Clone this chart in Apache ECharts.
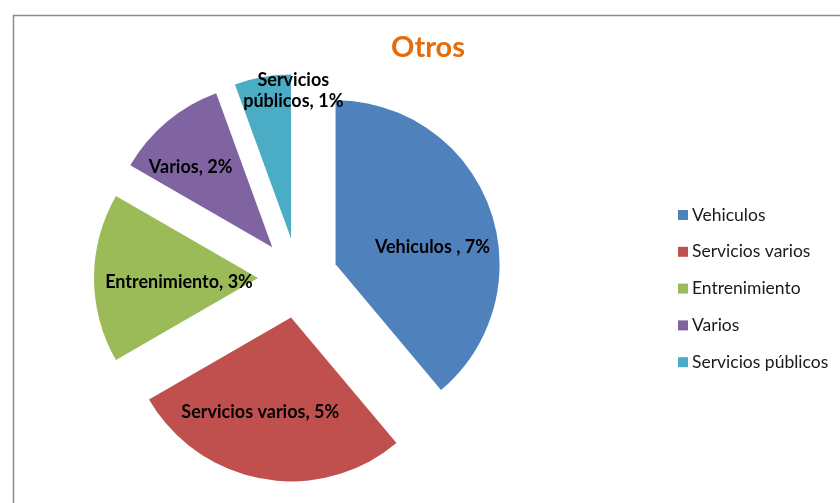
<!DOCTYPE html>
<html>
<head>
<meta charset="utf-8">
<script src="https://cdn.jsdelivr.net/npm/echarts@6/dist/echarts.min.js"></script>
<style>
  html, body { margin: 0; padding: 0; background: #fff; }
  #chart { width: 840px; height: 503px; }
</style>
</head>
<body>
<div id="chart"></div>
<script>
  // data
  const categories = ['Vehiculos', 'Servicios varios', 'Entrenimiento', 'Varios', 'Servicios públicos'];
  const labelNames = ['Vehiculos ', 'Servicios varios', 'Entrenimiento', 'Varios', 'Servicios\npúblicos'];
  const values = [7, 5, 3, 2, 1];
  const colors = ['#4F81BD', '#C0504D', '#9BBB59', '#8064A2', '#4BACC6'];

  // label nudges (px) from default inside position
  const labelShift = [[17, 12], [-16, 11], [6, 4], [-27, -15], [17, -64]];

  const chart = echarts.init(document.getElementById('chart'), null, { renderer: 'canvas' });
  const font = 'Lato, "Open Sans", sans-serif';

  chart.setOption({
    animation: false,
    backgroundColor: '#fff',
    title: {
      text: 'Otros', left: 423, top: 28, textAlign: 'center',
      textStyle: { color: '#E46C0A', fontSize: 29, fontWeight: 'bold', fontFamily: font },
    },
    graphic: [{
      type: 'rect', left: 11, top: 13, silent: true,
      shape: { width: 840, height: 500 },
      style: { fill: 'none', stroke: '#8c8c8c', lineWidth: 1.5 },
    }],
    legend: {
      orient: 'vertical', left: 673, top: 201,
      itemWidth: 10, itemHeight: 10, itemGap: 18.8, icon: 'rect',
      selectedMode: false,
      textStyle: { color: '#1a1a1a', fontSize: 17.5, fontFamily: font, padding: [0, 0, 0, -1] },
      data: categories,
    },
    series: [{
      type: 'pie',
      center: [298, 278], radius: 164,
      startAngle: 90, clockwise: true,
      selectedMode: 'multiple', selectedOffset: 40,
      emphasis: { disabled: true },
      labelLine: { show: false },
      label: {
        show: true, position: 'inside',
        color: '#000', fontSize: 18, fontWeight: 'bold', fontFamily: font, lineHeight: 21,
        formatter: (p) => labelNames[p.dataIndex] + ', ' + p.value + '%',
      },
      labelLayout: (p) => ({ dx: labelShift[p.dataIndex][0], dy: labelShift[p.dataIndex][1] }),
      data: categories.map((c, i) => ({
        name: c, value: values[i], selected: true,
        itemStyle: { color: colors[i] },
      })),
    }],
  });
</script>
</body>
</html>
